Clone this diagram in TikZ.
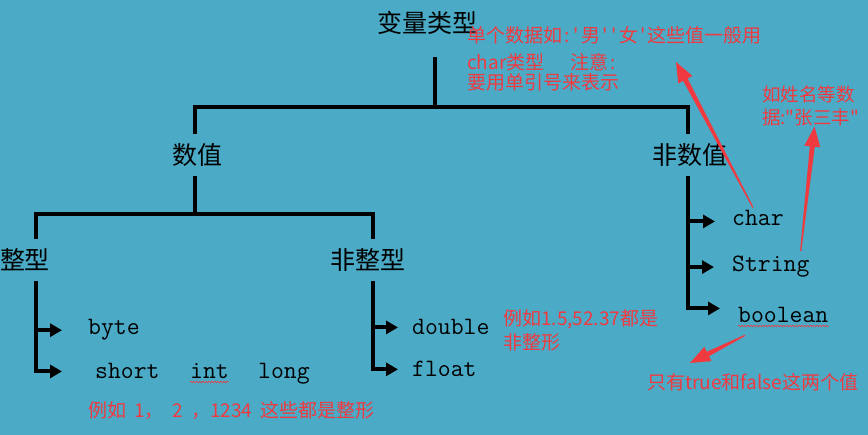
\documentclass[tikz,border=0pt]{standalone}
\usepackage{fontspec}
\newfontfamily\cjk{Noto Sans CJK SC}
\usetikzlibrary{arrows.meta,calc,decorations.pathmorphing}
\definecolor{sheet}{RGB}{75,170,198}
\definecolor{notered}{RGB}{240,58,64}

\newcommand\hw[1]{\makebox[0.5em]{#1}}
\newcommand\notearrow[2]{%
  \coordinate (#2-base) at ($(#2)!20pt!(#1)$) ;
  \fill[notered] ($(#1)!0.6pt!90:(#2)$) -- ($(#2-base)!2.5pt!90:(#2)$)
    -- ($(#2-base)!8pt!90:(#2)$) -- (#2) -- ($(#2-base)!8pt!-90:(#2)$)
    -- ($(#2-base)!2.5pt!-90:(#2)$) -- ($(#1)!0.6pt!-90:(#2)$) -- cycle ;
}

\begin{document}
\begin{tikzpicture}[x=1pt, y=-1pt,
  cat/.style={font=\cjk\fontsize{25}{30}\selectfont, inner sep=0pt, minimum height=42pt},
  leaf/.style={font=\ttfamily\fontsize{25}{30}\selectfont, inner sep=0pt, anchor=base west},
  note/.style={font=\cjk\fontsize{19}{20}\selectfont, text=notered, inner sep=0pt, align=left},
  tree/.style={line width=4pt},
  hook/.style={tree, -{Triangle[length=12pt,width=13pt]}},
  spell/.style={notered, line width=0.6pt, decorate,
    decoration={snake, amplitude=0.8pt, segment length=3pt}}]
\useasboundingbox (0,0) rectangle (868,435) ;
\fill[sheet] (0,0) rectangle (868,435) ;

\draw (427,23) node[cat, minimum height=68pt] (root) {变量类型} ;

\draw (197,155) node[cat] (num) {数值} ;
\draw (690,155) node[cat] (non) {非数值} ;
\coordinate (rj) at (435,107) ;
\draw[tree] ([xshift=8pt]root.south) -- (rj) ;
\draw[tree] ([xshift=-2pt]num.north) |- (rj) -| ([xshift=-2pt]non.north) ;

\draw (25,260) node[cat] (int) {整型} ;
\draw (368,260) node[cat] (flt) {非整型} ;
\coordinate (nj) at (195,214) ;
\draw[tree] ([xshift=-2pt]num.south) -- (nj) ;
\draw[tree] ([xshift=11pt]int.north) |- (nj) -| ([xshift=5pt]flt.north) ;

\draw (88,335) node[leaf] (byte) {byte} ;
\draw (95,379) node[leaf] (short) {short} ;
\draw (190,379) node[leaf] (int4) {int} ;
\draw (258,379) node[leaf] (long) {long} ;
\draw[hook, shorten >=26pt] ([xshift=11pt]int.south) |- (byte.west) ;
\draw[hook, shorten >=33pt] ([xshift=11pt]int.south) |- (short.west) ;
\draw[spell] ([yshift=-3pt]int4.base west) -- ([yshift=-3pt]int4.base east) ;

\draw (412,335) node[leaf] (double) {double} ;
\draw (412,377) node[leaf] (float) {float} ;
\draw[hook, shorten >=14pt] ([xshift=5pt]flt.south) |- (double.west) ;
\draw[hook, shorten >=14pt] ([xshift=5pt]flt.south) |- (float.west) ;

\draw (732,226) node[leaf] (char) {char} ;
\draw (732,272) node[leaf] (string) {String} ;
\draw (738,323) node[leaf] (boolean) {boolean} ;
\draw[hook, shorten >=17pt] ([xshift=-2pt]non.south) |- ([yshift=-3pt]char.west) ;
\draw[hook, shorten >=18pt] ([xshift=-2pt]non.south) |- (string.west) ;
\draw[hook, shorten >=18pt] ([xshift=-2pt]non.south) |- ([yshift=7pt]boolean.west) ;
\draw[spell] ([yshift=-3pt]boolean.base west) -- ([yshift=-3pt]boolean.base east) ;

\draw (467,26) node[note, anchor=north west] (charnote)
  {单个数据如\hw{:}\hw{\textquotesingle}男\hw{\textquotesingle}\hw{\textquotesingle}女\hw{\textquotesingle}这些值一般用\\[7pt]
   char类型\hspace{26pt}注意\hw{:}\\
   要用单引号来表示} ;
\draw (762,86) node[note, anchor=north west, font=\cjk\fontsize{18.5}{23}\selectfont] (strnote)
  {如姓名等数\\据:"张三丰"} ;
\draw (647,382) node[note, anchor=west] (boolnote) {只有true和false这两个值} ;
\draw (88,410) node[note, anchor=west] (intnote)
  {例如\hspace{8pt}1，\hspace{9pt}2\hspace{8pt}，1234\hspace{8pt}这些都是整形} ;
\draw (503,309) node[note, anchor=north west, font=\cjk\fontsize{19}{24}\selectfont] (fltnote)
  {例如1.5,52.37都是\\非整形} ;

\coordinate (chartail) at ([xshift=-5pt,yshift=3pt]char.north) ;
\coordinate (chartip) at (676,62) ;
\notearrow{chartail}{chartip}
\coordinate (strtail) at ([xshift=-9pt,yshift=5pt]string.north east) ;
\coordinate (strtip) at ([xshift=4pt]strnote.south) ;
\notearrow{strtail}{strtip}
\coordinate (booltail) at ([xshift=7pt,yshift=-12pt]boolean.south west) ;
\coordinate (booltip) at (690,363) ;
\notearrow{booltail}{booltip}

\end{tikzpicture}
\end{document}
